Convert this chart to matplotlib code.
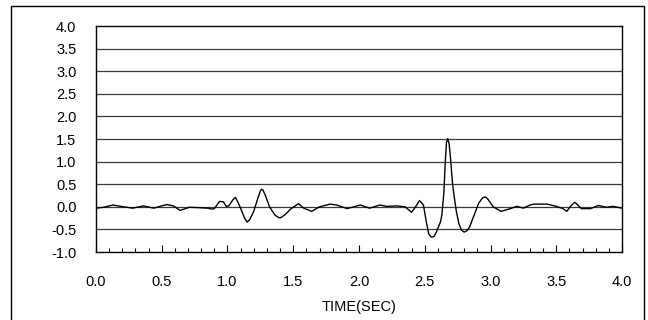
import numpy as np
import matplotlib
matplotlib.use("Agg")
import matplotlib.pyplot as plt
from matplotlib.patches import Rectangle
from matplotlib.ticker import MultipleLocator

plt.rcParams['font.family'] = ['Liberation Sans', 'DejaVu Sans']

# datos (tiempo en s, amplitud)
time = [0.00, 0.06, 0.13, 0.21, 0.28, 0.36, 0.44, 0.50, 0.54, 0.59, 0.64, 0.71,
        0.79, 0.85, 0.88, 0.90, 0.94, 0.97, 0.99, 1.01, 1.04, 1.06, 1.08, 1.10,
        1.13, 1.15, 1.17, 1.20, 1.23, 1.25, 1.26, 1.27, 1.29, 1.32, 1.36, 1.39,
        1.40, 1.41, 1.44, 1.48, 1.54, 1.58, 1.64, 1.70, 1.78, 1.83, 1.91, 1.96,
        2.01, 2.08, 2.16, 2.21, 2.29, 2.35, 2.40, 2.43, 2.46, 2.49, 2.51, 2.53,
        2.55, 2.57, 2.59, 2.61, 2.62, 2.63, 2.645, 2.655, 2.665, 2.675, 2.685, 2.695,
        2.71, 2.72, 2.74, 2.76, 2.78, 2.80, 2.82, 2.84, 2.86, 2.91, 2.94, 2.96,
        2.98, 3.02, 3.08, 3.14, 3.17, 3.20, 3.25, 3.30, 3.33, 3.43, 3.50, 3.55,
        3.58, 3.61, 3.64, 3.66, 3.69, 3.76, 3.82, 3.88, 3.93, 4.00]
amp = [-0.03, -0.01, 0.04, 0.00, -0.03, 0.02, -0.03, 0.02, 0.05, 0.02, -0.08, -0.01,
       -0.02, -0.03, -0.05, -0.04, 0.12, 0.11, 0.01, 0.02, 0.15, 0.21, 0.10, -0.03,
       -0.25, -0.34, -0.28, -0.10, 0.18, 0.35, 0.39, 0.37, 0.24, 0.00, -0.18, -0.24,
       -0.245, -0.23, -0.17, -0.05, 0.07, -0.03, -0.10, 0.00, 0.06, 0.04, -0.04, 0.00,
       0.04, -0.03, 0.04, 0.01, 0.02, 0.00, -0.12, 0.00, 0.14, 0.04, -0.30, -0.60,
       -0.67, -0.66, -0.55, -0.40, -0.33, -0.18, 0.30, 0.95, 1.42, 1.51, 1.40, 1.10,
       0.55, 0.30, -0.10, -0.38, -0.52, -0.56, -0.53, -0.45, -0.30, 0.08, 0.20, 0.22,
       0.17, 0.00, -0.10, -0.05, -0.02, 0.01, -0.03, 0.04, 0.06, 0.06, 0.01, -0.04,
       -0.10, 0.02, 0.10, 0.05, -0.04, -0.04, 0.03, -0.01, 0.01, -0.03]

xticks = [0.0, 0.5, 1.0, 1.5, 2.0, 2.5, 3.0, 3.5, 4.0]
yticks = [-1.0, -0.5, 0.0, 0.5, 1.0, 1.5, 2.0, 2.5, 3.0, 3.5, 4.0]

fig = plt.figure(figsize=(6.48, 3.2), dpi=100)
ax = fig.add_axes([0.148, 0.2125, 0.812, 0.706])

for y in yticks[1:-1]:
    ax.axhline(y, color='#3a3a3a', lw=0.9, zorder=1)
ax.plot(time, amp, color='black', lw=1.0, zorder=3)

ax.set_xlim(0, 4)
ax.set_ylim(-1, 4)
ax.set_xticks(xticks)
ax.set_xticklabels(["%.1f" % v for v in xticks])
ax.xaxis.set_minor_locator(MultipleLocator(0.1))
ax.set_yticks(yticks)
ax.set_yticklabels(["%.1f" % v for v in yticks])
ax.tick_params(axis='x', which='major', direction='in', length=5, width=0.8,
               pad=16.5, labelsize=10.5)
ax.tick_params(axis='x', which='minor', direction='in', length=3, width=0.8)
ax.tick_params(axis='y', length=0, pad=14, labelsize=10.5)
for s in ax.spines.values():
    s.set_color('black')
    s.set_linewidth(1.0)
ax.set_xlabel("TIME(SEC)", fontsize=10.5, labelpad=8)

# marco exterior
fig.patches.append(Rectangle((11/648, -0.05), 633/648, 1.05 - 6/320, transform=fig.transFigure,
                             fill=False, edgecolor='black', lw=1.0))

plt.savefig("out.png", dpi=100)
plt.close()
